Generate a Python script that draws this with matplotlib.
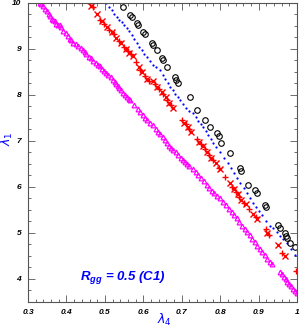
import numpy as np
import matplotlib
matplotlib.use("Agg")
import matplotlib.pyplot as plt
from matplotlib.ticker import MultipleLocator

plt.rcParams["mathtext.fontset"] = "custom"
plt.rcParams["mathtext.bf"] = "Liberation Sans:bold:italic"
plt.rcParams["mathtext.it"] = "DejaVu Sans:italic"
plt.rcParams["mathtext.rm"] = "DejaVu Sans"

# magenta triangles
tri_x = [0.331, 0.335, 0.340, 0.345, 0.350, 0.355, 0.358, 0.362, 0.366, 0.370, 0.374, 0.378,
         0.383, 0.386, 0.392, 0.398, 0.403, 0.408, 0.412, 0.418, 0.424, 0.430, 0.437, 0.443,
         0.447, 0.452, 0.458, 0.463, 0.470, 0.476, 0.482, 0.487, 0.492, 0.497, 0.502, 0.508,
         0.515, 0.520, 0.526, 0.530, 0.534, 0.538, 0.542, 0.548, 0.553, 0.558, 0.562, 0.566,
         0.575, 0.585, 0.592, 0.598, 0.604, 0.610, 0.618, 0.625, 0.632, 0.638, 0.643, 0.650,
         0.656, 0.662, 0.668, 0.672, 0.677, 0.684, 0.690, 0.697, 0.703, 0.708, 0.713, 0.720,
         0.729, 0.736, 0.743, 0.750, 0.757, 0.765, 0.772, 0.778, 0.785, 0.792, 0.799, 0.806,
         0.814, 0.822, 0.830, 0.837, 0.843, 0.850, 0.857, 0.864, 0.870, 0.877, 0.884, 0.890,
         0.897, 0.903, 0.910, 0.916, 0.922, 0.929, 0.934, 0.955, 0.960, 0.965, 0.970, 0.975,
         0.980, 0.985, 0.990, 0.995, 0.999]
tri_y = [10.0, 9.98, 9.93, 9.86, 9.82, 9.75, 9.72, 9.66, 9.64, 9.60, 9.55, 9.52,
         9.52, 9.47, 9.40, 9.34, 9.28, 9.22, 9.20, 9.14, 9.10, 9.06, 9.02, 8.98,
         8.93, 8.88, 8.83, 8.80, 8.74, 8.70, 8.66, 8.62, 8.56, 8.52, 8.48, 8.44,
         8.38, 8.33, 8.28, 8.24, 8.20, 8.16, 8.10, 8.05, 8.01, 7.95, 7.91, 7.88,
         7.78, 7.70, 7.62, 7.56, 7.50, 7.45, 7.40, 7.34, 7.26, 7.20, 7.16, 7.08,
         7.02, 6.96, 6.90, 6.85, 6.80, 6.75, 6.70, 6.64, 6.59, 6.54, 6.50, 6.46,
         6.40, 6.32, 6.26, 6.20, 6.12, 6.04, 5.98, 5.92, 5.86, 5.80, 5.75, 5.68,
         5.60, 5.52, 5.45, 5.38, 5.32, 5.24, 5.16, 5.09, 5.02, 4.95, 4.87, 4.80,
         4.72, 4.66, 4.58, 4.51, 4.44, 4.37, 4.32, 4.16, 4.10, 4.05, 3.99, 3.94,
         3.89, 3.84, 3.78, 3.73, 3.70]

# red crosses
red_x = [0.460, 0.465, 0.470, 0.480, 0.487, 0.492, 0.498, 0.505, 0.512, 0.518, 0.523, 0.530,
         0.536, 0.542, 0.550, 0.556, 0.560, 0.564, 0.568, 0.572, 0.580, 0.588, 0.592, 0.597,
         0.604, 0.610, 0.616, 0.625, 0.630, 0.636, 0.642, 0.648, 0.652, 0.658, 0.662, 0.668,
         0.673, 0.678, 0.700, 0.705, 0.710, 0.715, 0.720, 0.725, 0.740, 0.745, 0.750, 0.755,
         0.760, 0.765, 0.770, 0.775, 0.782, 0.790, 0.797, 0.800, 0.812, 0.825, 0.830, 0.835,
         0.840, 0.845, 0.850, 0.855, 0.862, 0.868, 0.875, 0.885, 0.892, 0.897, 0.918, 0.923,
         0.928, 0.950, 0.962, 0.968, 0.998]
red_y = [10.0, 9.94, 9.92, 9.76, 9.63, 9.60, 9.55, 9.48, 9.42, 9.36, 9.32, 9.24,
         9.18, 9.12, 9.04, 9.00, 8.96, 8.92, 8.88, 8.85, 8.72, 8.60, 8.55, 8.50,
         8.42, 8.35, 8.30, 8.30, 8.24, 8.18, 8.12, 8.06, 8.02, 7.96, 7.90, 7.82,
         7.78, 7.72, 7.46, 7.40, 7.36, 7.30, 7.25, 7.20, 7.04, 6.98, 6.93, 6.88,
         6.82, 6.76, 6.70, 6.64, 6.58, 6.52, 6.42, 6.40, 6.22, 6.08, 6.00, 5.96,
         5.90, 5.84, 5.78, 5.72, 5.66, 5.62, 5.52, 5.42, 5.35, 5.30, 5.08, 5.00,
         4.96, 4.74, 4.56, 4.50, 4.18]

# blue dots
blue_x = [0.503, 0.510, 0.518, 0.525, 0.531, 0.538, 0.545, 0.551, 0.557, 0.563, 0.570, 0.576,
          0.583, 0.590, 0.597, 0.603, 0.609, 0.618, 0.626, 0.634, 0.643, 0.650, 0.657, 0.663,
          0.669, 0.676, 0.683, 0.689, 0.695, 0.704, 0.712, 0.720, 0.729, 0.736, 0.742, 0.749,
          0.755, 0.762, 0.768, 0.775, 0.781, 0.790, 0.800, 0.810, 0.820, 0.828, 0.836, 0.843,
          0.852, 0.861, 0.869, 0.877, 0.885, 0.893, 0.902, 0.910, 0.920, 0.929, 0.938, 0.947,
          0.955, 0.963, 0.973, 0.983, 0.994]
blue_y = [10.0, 9.92, 9.84, 9.76, 9.70, 9.64, 9.58, 9.52, 9.46, 9.38, 9.30, 9.22,
          9.13, 9.05, 8.98, 8.90, 8.83, 8.74, 8.66, 8.60, 8.54, 8.44, 8.35, 8.26,
          8.17, 8.10, 8.02, 7.95, 7.89, 7.80, 7.72, 7.66, 7.61, 7.52, 7.44, 7.37,
          7.30, 7.22, 7.12, 7.04, 6.96, 6.86, 6.75, 6.64, 6.52, 6.42, 6.30, 6.20,
          6.08, 5.98, 5.86, 5.76, 5.66, 5.56, 5.48, 5.39, 5.26, 5.16, 5.10, 5.02,
          4.94, 4.86, 4.78, 4.66, 4.52]

# black circles
circ_x = [0.547, 0.565, 0.570, 0.583, 0.587, 0.600, 0.604, 0.622, 0.626, 0.635, 0.648, 0.652,
          0.661, 0.682, 0.686, 0.690, 0.721, 0.739, 0.760, 0.773, 0.791, 0.796, 0.803, 0.825,
          0.851, 0.855, 0.873, 0.890, 0.895, 0.916, 0.918, 0.950, 0.955, 0.968, 0.972, 0.975,
          0.981, 0.994]
circ_y = [9.91, 9.74, 9.70, 9.57, 9.52, 9.37, 9.32, 9.13, 9.08, 8.98, 8.80, 8.75,
          8.61, 8.39, 8.33, 8.26, 7.96, 7.67, 7.46, 7.30, 7.17, 7.10, 6.96, 6.74,
          6.41, 6.35, 6.05, 5.94, 5.87, 5.61, 5.56, 5.17, 5.10, 5.00, 4.93, 4.88,
          4.78, 4.70]

fig = plt.figure(figsize=(3.01, 3.30), dpi=100)
ax = fig.add_axes([0.093, 0.085, 0.894, 0.906])

ax.plot(tri_x, tri_y, ls="none", marker="^", ms=3.4, mfc="none", mec="#ff00ff", mew=0.9)
ax.plot(red_x[::2], red_y[::2], ls="none", marker="+", ms=5, color="#ff0000", mew=1.0)
ax.plot(red_x[1::2], red_y[1::2], ls="none", marker="x", ms=4, color="#ff0000", mew=1.0)
ax.plot(blue_x, blue_y, ls="none", marker="o", ms=1.6, color="#0000ff", mew=0)
ax.plot(circ_x, circ_y, ls="none", marker="o", ms=4, mfc="none", mec="black", mew=0.8)

ax.set_xlim(0.3, 1.0)
ax.set_ylim(3.5, 10)
ax.xaxis.set_minor_locator(MultipleLocator(0.02))
ax.yaxis.set_minor_locator(MultipleLocator(0.25))
ax.tick_params(which="both", direction="in", top=True, right=True, width=0.6, color="#555555")
ax.tick_params(which="major", length=5)
ax.tick_params(which="minor", length=2.5)
for s in ax.spines.values():
    s.set_linewidth(0.8)
    s.set_color("#555555")

tf = dict(family="Liberation Sans", weight="bold", style="italic", size=6)
ax.set_xticks([0.3, 0.4, 0.5, 0.6, 0.7, 0.8, 0.9, 1.0])
ax.set_xticklabels(["0.3", "0.4", "0.5", "0.6", "0.7", "0.8", "0.9", "1"], **tf)
ax.set_yticks([4, 5, 6, 7, 8, 9, 10])
ax.set_yticklabels(["4", "5", "6", "7", "8", "9", "10"], **tf)
ax.tick_params(axis="x", pad=5)
ax.tick_params(axis="y", pad=5)

# axis labels placed as figure text
fig.text(164 / 301, 1 - 320 / 330, r"$\lambda_4$", color="#0000ff", fontsize=9,
         ha="center", va="center")
fig.text(7 / 301, 1 - 139 / 330, r"$\lambda_1$", color="#0000ff", fontsize=9,
         ha="center", va="center", rotation=90)

ax.text(0.435, 3.97, r"$\mathbf{R_{gg}}$ = 0.5 (C1)", color="#0000ff",
        family="Liberation Sans", weight="bold", style="italic", fontsize=9.5)

fig.savefig("out.png", dpi=100)
